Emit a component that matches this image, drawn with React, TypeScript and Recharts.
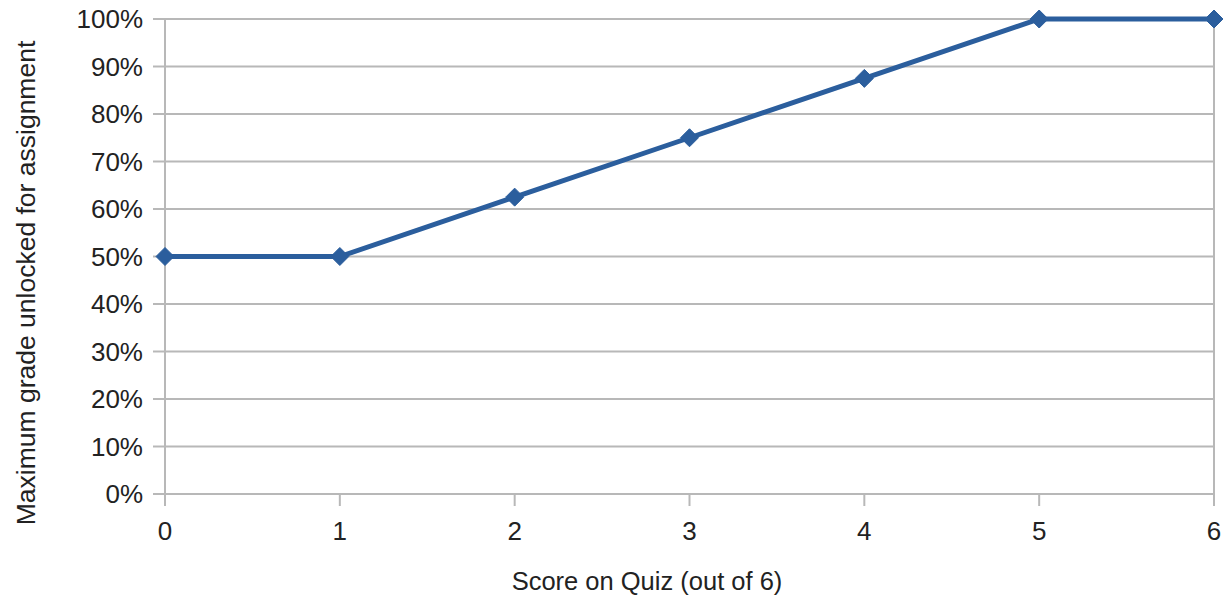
import { LineChart, Line, XAxis, YAxis, CartesianGrid, ReferenceLine, Label } from "recharts";

const scores = [0, 1, 2, 3, 4, 5, 6];
const maxGrade = [0.5, 0.5, 0.625, 0.75, 0.875, 1, 1];
const yTicks = [0, 0.1, 0.2, 0.3, 0.4, 0.5, 0.6, 0.7, 0.8, 0.9, 1];

const data = scores.map((s, i) => ({ score: s, grade: maxGrade[i] }));

const BLUE = "#2b5e9d";
const GRID = "#b8b8b8";
const TEXT = "#222222";
const FONT = "'Liberation Sans', Arial, sans-serif";

function Diamond(props: { cx?: number; cy?: number }) {
  const { cx, cy } = props;
  if (cx == null || cy == null) return null;
  const r = 9;
  return (
    <polygon
      points={`${cx},${cy - r} ${cx + r},${cy} ${cx},${cy + r} ${cx - r},${cy}`}
      fill={BLUE}
      stroke={BLUE}
    />
  );
}

export default function App() {
  return (
    <div style={{ position: "absolute", left: 0, top: 0, background: "#fff" }}>
      <LineChart
        width={1223}
        height={597}
        data={data}
        margin={{ top: 19, right: 9, bottom: 0, left: 0 }}
        style={{ fontFamily: FONT }}
      >
        <CartesianGrid stroke={GRID} strokeWidth={2} vertical={false} />
        <XAxis
          dataKey="score"
          type="number"
          domain={[0, 6]}
          ticks={scores}
          height={103}
          tickSize={12}
          tickMargin={16}
          axisLine={{ stroke: GRID, strokeWidth: 2 }}
          tickLine={{ stroke: GRID, strokeWidth: 2 }}
          tick={{ fill: TEXT, fontSize: 26 }}
        >
          <Label
            content={() => (
              <text x={647} y={590} textAnchor="middle" fill={TEXT} fontSize={25.5} fontFamily={FONT}>
                Score on Quiz (out of 6)
              </text>
            )}
          />
        </XAxis>
        <YAxis
          type="number"
          domain={[0, 1]}
          ticks={yTicks}
          width={165}
          tickSize={12}
          tickMargin={10}
          tickFormatter={(v: number) => `${Math.round(v * 100)}%`}
          axisLine={{ stroke: GRID, strokeWidth: 2 }}
          tickLine={{ stroke: GRID, strokeWidth: 2 }}
          tick={{ fill: TEXT, fontSize: 26 }}
        >
          <Label
            content={() => (
              <text
                transform="translate(35,283) rotate(-90)"
                textAnchor="middle"
                fill={TEXT}
                fontSize={26.5}
                fontFamily={FONT}
              >
                Maximum grade unlocked for assignment
              </text>
            )}
          />
        </YAxis>
        <ReferenceLine x={6} stroke={GRID} strokeWidth={2} />
        <Line
          type="linear"
          dataKey="grade"
          stroke={BLUE}
          strokeWidth={5}
          dot={<Diamond />}
          activeDot={false}
          isAnimationActive={false}
        />
      </LineChart>
    </div>
  );
}
